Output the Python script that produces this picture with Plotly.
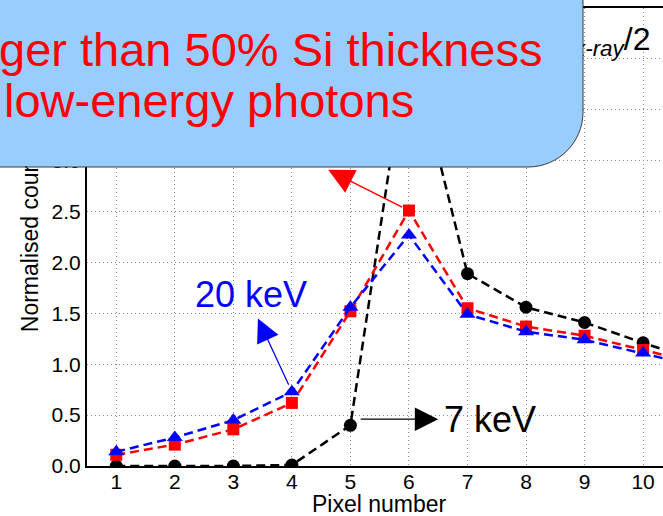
import plotly.graph_objects as go

# ---------------- data ----------------
pixel_number = [1, 2, 3, 4, 5, 6, 7, 8, 9, 10, 11]
counts_7kev = [0.0, 0.0, 0.0, 0.01, 0.40, 4.2, 1.89, 1.56, 1.41, 1.21, 1.02]
counts_red = [0.11, 0.21, 0.36, 0.62, 1.52, 2.51, 1.55, 1.37, 1.28, 1.14, 1.00]
counts_20kev = [0.14, 0.28, 0.45, 0.73, 1.56, 2.27, 1.49, 1.32, 1.24, 1.11, 0.97]
x_ticks = [1, 2, 3, 4, 5, 6, 7, 8, 9, 10]
y_ticks = [0.0, 0.5, 1.0, 1.5, 2.0, 2.5, 3.0, 3.5, 4.0, 4.5]

W, H = 663, 516
ML, MR, MT, MB = 87, 0, 8, 50
PW, PH = W - ML - MR, H - MT - MB
FONT = "Liberation Sans, Arial, sans-serif"
BOX = "#99ccff"


def px_x(px):
    return (px - ML) / PW


def px_y(py):
    return (H - MB - py) / PH


fig = go.Figure()

dash = "9px,5px"
fig.add_trace(go.Scatter(x=pixel_number, y=counts_7kev, mode="lines+markers", name="7 keV",
                         line=dict(color="black", width=2.5, dash=dash),
                         marker=dict(symbol="circle", size=13, color="black")))
fig.add_trace(go.Scatter(x=pixel_number, y=counts_red, mode="lines+markers", name="red",
                         line=dict(color="#ff0000", width=2.5, dash=dash),
                         marker=dict(symbol="square", size=12, color="#ff0000")))
fig.add_trace(go.Scatter(x=pixel_number, y=counts_20kev, mode="lines+markers", name="20 keV",
                         line=dict(color="#0000ff", width=2.5, dash=dash),
                         marker=dict(symbol="triangle-up", size=14, color="#0000ff")))

# partially hidden formula text (drawn in the plot layer so the callout box covers it)
fig.add_trace(go.Scatter(x=[8.82], y=[4.17], mode="text",
                         text=["<sub><i>x-ray</i></sub>/2"], textposition="middle right",
                         textfont=dict(family=FONT, size=32, color="black"),
                         showlegend=False, hoverinfo="skip"))

grid = dict(showgrid=True, gridcolor="#8c8c8c", gridwidth=1, griddash="1px,3px")

fig.update_xaxes(range=[0.5, 10.34], tickvals=x_ticks, ticks="", ticklen=0, zeroline=False,
                 ticklabelstandoff=-4,
                 showline=True, linecolor="black", linewidth=2, mirror=True,
                 tickfont=dict(family=FONT, size=21, color="black"),
                 automargin=False, **grid)
fig.update_yaxes(range=[0, 4.5], tickvals=y_ticks, tickformat=".1f", ticks="", zeroline=False,
                 showline=True, linecolor="black", linewidth=2, mirror=False,
                 tickfont=dict(family=FONT, size=21, color="black"),
                 title=dict(text="Normalised counts", font=dict(family=FONT, size=23, color="black"), standoff=7),
                 automargin=False, **grid)

# callout box with rounded bottom-right corner
xl, xr = px_x(-20), px_x(583)
yt, yb = px_y(-20), px_y(167)
ycs = px_y(167 - 55)
xce = px_x(583 - 55)
k = 0.5523
path = (f"M {xl},{yt} L {xr},{yt} L {xr},{ycs} "
        f"C {xr},{ycs - k * (ycs - yb)} {xce + k * (xr - xce)},{yb} {xce},{yb} "
        f"L {xl},{yb} Z")
fig.add_shape(type="path", path=path, xref="paper", yref="paper", layer="above",
              fillcolor=BOX, line=dict(color="#3a3a3a", width=1))

annotations = [
    # x-axis title
    dict(text="Pixel number", x=px_x(379), y=px_y(504), xref="paper", yref="paper",
         xanchor="center", yanchor="middle", showarrow=False,
         font=dict(family=FONT, size=23, color="black")),
    # patch of the callout box that hides the upper part of the y-axis title
    dict(text=" ", x=px_x(0), y=px_y(90), xref="paper", yref="paper", xanchor="left", yanchor="top",
         width=62, height=76, bgcolor=BOX, borderpad=0, borderwidth=0, showarrow=False),
    dict(text="ger than 50% Si thickness", x=px_x(-3), y=px_y(49), xref="paper", yref="paper",
         xanchor="left", yanchor="middle", showarrow=False,
         font=dict(family=FONT, size=47, color="#ff0000")),
    dict(text="low-energy photons", x=px_x(2), y=px_y(100), xref="paper", yref="paper",
         xanchor="left", yanchor="middle", showarrow=False,
         font=dict(family=FONT, size=47, color="#ff0000")),
    # arrows
    dict(x=4.62, y=2.91, ax=6.0, ay=2.51, xref="x", yref="y", axref="x", ayref="y",
         text="", showarrow=True, arrowhead=2, arrowsize=3.4, arrowwidth=1.5,
         arrowcolor="#ff0000", startstandoff=6),
    dict(x=3.42, y=1.45, ax=4.0, ay=0.73, xref="x", yref="y", axref="x", ayref="y",
         text="", showarrow=True, arrowhead=2, arrowsize=3.6, arrowwidth=1.3,
         arrowcolor="#0000ff", startstandoff=6),
    dict(x=6.50, y=0.46, ax=5.15, ay=0.46, xref="x", yref="y", axref="x", ayref="y",
         text="", showarrow=True, arrowhead=2, arrowsize=3.6, arrowwidth=1.3,
         arrowcolor="black"),
    # labels
    dict(text="20 keV", x=3.30, y=1.69, xref="x", yref="y", showarrow=False,
         xanchor="center", yanchor="middle", font=dict(family=FONT, size=36, color="#0000ff")),
    dict(text="7 keV", x=6.56, y=0.46, xref="x", yref="y", showarrow=False,
         xanchor="left", yanchor="middle", font=dict(family=FONT, size=36, color="black")),
]

fig.update_layout(width=W, height=H, margin=dict(l=ML, r=MR, t=MT, b=MB, pad=0),
                  plot_bgcolor="white", paper_bgcolor="white", showlegend=False,
                  annotations=annotations, font=dict(family=FONT))

fig.write_html("out.html")
